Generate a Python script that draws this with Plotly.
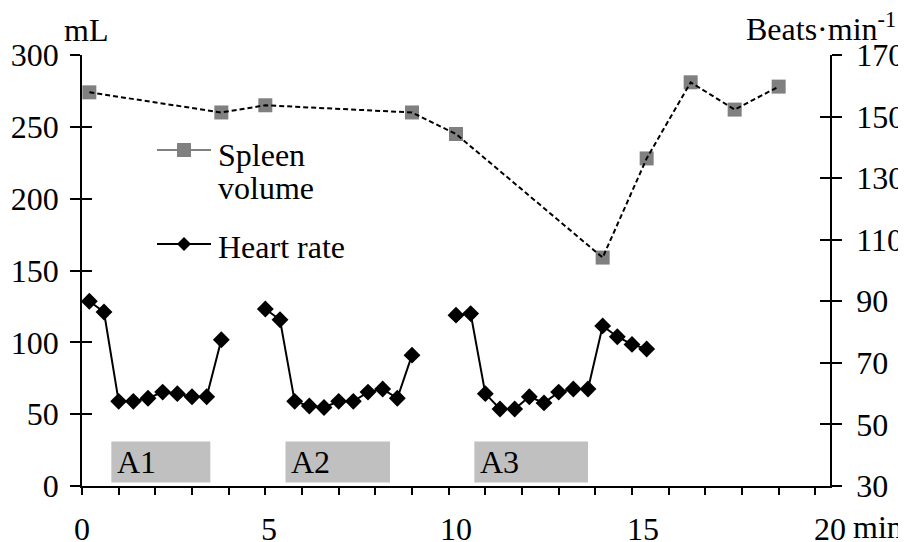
"""
Spleen volume and heart rate during three apneas (A1-A3)
"""

import plotly.graph_objects as go

# region Data
SPLEEN_MIN = [0.2, 3.8, 5.0, 9.0, 10.2, 14.2, 15.4, 16.6, 17.8, 19.0]
SPLEEN_ML = [274, 260, 265, 260, 245, 159, 228, 281, 262, 278]

HR1_MIN = [0.2, 0.6, 1.0, 1.4, 1.8, 2.2, 2.6, 3.0, 3.4, 3.8]
HR1_BPM = [90, 86.5, 57.5, 57.5, 58.5, 60.5, 60, 59, 59, 77.5]
HR2_MIN = [5.0, 5.4, 5.8, 6.2, 6.6, 7.0, 7.4, 7.8, 8.2, 8.6, 9.0]
HR2_BPM = [87.5, 84, 57.5, 56, 55.5, 57.5, 57.5, 60.5, 61.5, 58.5, 72.5]
HR3_MIN = [10.2, 10.6, 11.0, 11.4, 11.8, 12.2, 12.6, 13.0, 13.4, 13.8, 14.2, 14.6, 15.0, 15.4]
HR3_BPM = [85.5, 86, 60, 55, 55, 59, 57, 60.5, 61.5, 61.5, 82, 78.5, 76, 74.5]

APNEA_LABELS = ["A1", "A2", "A3"]
APNEA_START = [0.8, 5.55, 10.7]
APNEA_END = [3.5, 8.4, 13.8]

X_LABELS = ["0", "5", "10", "15", "20"]
# endregion

FONT = "Liberation Serif, Times New Roman, serif"
FS = 32
GRAY = "#808080"
BOX = "#C0C0C0"
X_MAX = 20.4

# page has an 8px body margin, so the figure is 8px smaller than the window
WIDTH, HEIGHT = 898, 534

hr_x = HR1_MIN + [None] + HR2_MIN + [None] + HR3_MIN
hr_y = HR1_BPM + [None] + HR2_BPM + [None] + HR3_BPM

fig = go.Figure()

# spleen markers first, dashed line on top (as in the original)
fig.add_trace(go.Scatter(
    x=SPLEEN_MIN, y=SPLEEN_ML, mode="markers",
    marker=dict(symbol="square", size=14, color=GRAY),
    showlegend=False, yaxis="y",
))
fig.add_trace(go.Scatter(
    x=SPLEEN_MIN, y=SPLEEN_ML, mode="lines",
    line=dict(color="black", width=2, dash="5px,3px"),
    showlegend=False, yaxis="y",
))
fig.add_trace(go.Scatter(
    x=hr_x, y=hr_y, mode="lines+markers",
    line=dict(color="black", width=2),
    marker=dict(symbol="diamond", size=13, color="black"),
    showlegend=False, yaxis="y2", connectgaps=False,
))

# apnea boxes
for lab, x0, x1 in zip(APNEA_LABELS, APNEA_START, APNEA_END):
    fig.add_shape(type="rect", xref="x", yref="y", x0=x0, x1=x1, y0=2.5, y1=31,
                  fillcolor=BOX, line=dict(width=0), layer="below")
    fig.add_annotation(xref="x", yref="y", x=x0 + 0.1, y=17, text=lab,
                       showarrow=False, xanchor="left", yanchor="middle",
                       font=dict(family=FONT, size=FS, color="black"))

# hand-made legend (positions given in window pixels, plot area 82..830 x 55..486)
PX = lambda px: (px - 82) / 748.0
PY = lambda py: (486 - py) / 431.0
fig.add_shape(type="line", xref="paper", yref="paper",
              x0=PX(157), x1=PX(211), y0=PY(150), y1=PY(150),
              line=dict(color=GRAY, width=2))
fig.add_shape(type="rect", xref="paper", yref="paper",
              x0=PX(177), x1=PX(191), y0=PY(157), y1=PY(143),
              fillcolor=GRAY, line=dict(width=0))
fig.add_shape(type="line", xref="paper", yref="paper",
              x0=PX(157), x1=PX(211), y0=PY(244), y1=PY(244),
              line=dict(color="black", width=2))
fig.add_shape(type="path", xref="paper", yref="paper",
              path=(f"M {PX(177)} {PY(244)} L {PX(184)} {PY(237)} "
                    f"L {PX(191)} {PY(244)} L {PX(184)} {PY(251)} Z"),
              fillcolor="black", line=dict(width=0))
for txt, py in [("Spleen", 155), ("volume", 188), ("Heart rate", 247)]:
    fig.add_annotation(xref="paper", yref="paper", x=PX(216), y=PY(py),
                       text=txt, showarrow=False, xanchor="left", yanchor="middle",
                       font=dict(family=FONT, size=FS, color="black"))

# axis titles
fig.add_annotation(xref="paper", yref="paper", x=PX(62), y=PY(30),
                   text="mL", showarrow=False, xanchor="left", yanchor="middle",
                   font=dict(family=FONT, size=FS, color="black"))
fig.add_annotation(xref="paper", yref="paper", x=PX(744), y=PY(27),
                   text="Beats·min<sup>-1</sup>", showarrow=False,
                   xanchor="left", yanchor="middle",
                   font=dict(family=FONT, size=FS, color="black"))
fig.add_annotation(xref="paper", yref="paper", x=PX(851), y=PY(527),
                   text="min", showarrow=False, xanchor="left", yanchor="middle",
                   font=dict(family=FONT, size=FS, color="black"))

axis_common = dict(showgrid=False, zeroline=False, linecolor="black", linewidth=1.5,
                   tickcolor="black", tickwidth=1.5, automargin=False,
                   tickfont=dict(family=FONT, size=FS, color="black"))

fig.update_layout(
    width=WIDTH, height=HEIGHT,
    margin=dict(l=74, r=76, t=47, b=56, autoexpand=False),
    paper_bgcolor="white", plot_bgcolor="white",
    showlegend=False,
    xaxis=dict(range=[0, X_MAX], showline=True, ticks="outside", ticklen=7,
               tickmode="linear", tick0=0, dtick=1, showticklabels=False,
               **axis_common),
    xaxis2=dict(range=[0, X_MAX], overlaying="x", side="bottom", anchor="y",
                showline=False, ticks="", tickmode="array",
                tickvals=[X_MAX * i / 20 * 5 for i in range(5)], ticktext=X_LABELS,
                ticklabelstandoff=21, **axis_common),
    yaxis=dict(range=[0, 300], showline=True, ticks="outside", ticklen=10,
               tickmode="linear", tick0=0, dtick=50, ticklabelstandoff=5,
               **axis_common),
    yaxis2=dict(range=[30, 170], overlaying="y", side="right", anchor="x",
                showline=True, ticks="outside", ticklen=10,
                tickmode="linear", tick0=30, dtick=20, ticklabelstandoff=8,
                **axis_common),
    yaxis3=dict(range=[0, 300], overlaying="y", side="left", anchor="x",
                showline=False, ticks="inside", ticklen=10, showticklabels=False,
                tickmode="linear", tick0=0, dtick=50, **axis_common),
    yaxis4=dict(range=[30, 170], overlaying="y", side="right", anchor="x",
                showline=False, ticks="inside", ticklen=10, showticklabels=False,
                tickmode="linear", tick0=30, dtick=20, **axis_common),
)

# dummy traces so the helper axes get drawn
fig.add_trace(go.Scatter(x=[None], y=[None], xaxis="x2", yaxis="y", showlegend=False))
fig.add_trace(go.Scatter(x=[None], y=[None], yaxis="y3", showlegend=False))
fig.add_trace(go.Scatter(x=[None], y=[None], yaxis="y4", showlegend=False))

fig.write_html("out.html")
